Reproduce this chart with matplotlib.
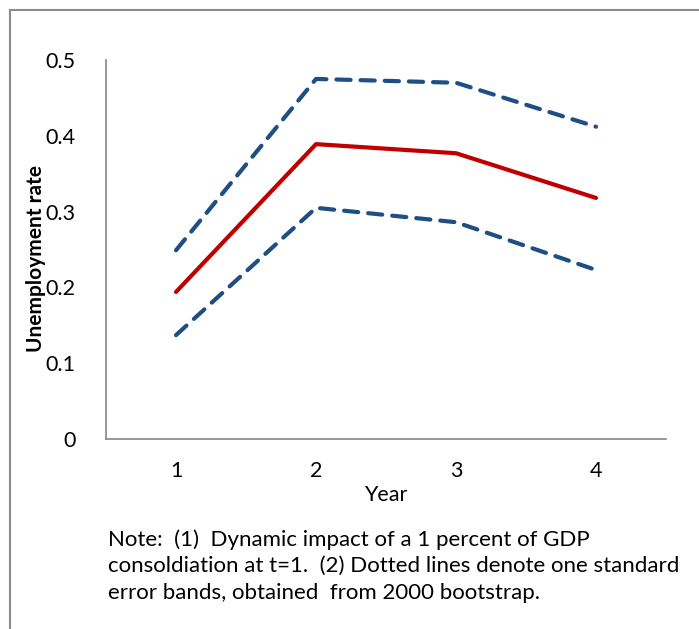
import matplotlib
matplotlib.use("Agg")
import matplotlib.pyplot as plt
from matplotlib.lines import Line2D

years = ["1", "2", "3", "4"]
estimate = [0.194, 0.389, 0.377, 0.318]
upper = [0.249, 0.475, 0.470, 0.412]
lower = [0.137, 0.305, 0.286, 0.223]
yticks = [0, 0.1, 0.2, 0.3, 0.4, 0.5]
ytick_labels = ["0", "0.1", "0.2", "0.3", "0.4", "0.5"]
note = ("Note:  (1)  Dynamic impact of a 1 percent of GDP\n"
        "consoldiation at t=1.  (2) Dotted lines denote one standard\n"
        "error bands, obtained  from 2000 bootstrap.")

plt.rcParams['font.family'] = ['Lato', 'DejaVu Sans']

W, H = 699, 629
fig = plt.figure(figsize=(W / 100, H / 100), dpi=100)
ax = fig.add_axes([106 / W, 1 - 439 / H, 560 / W, (439 - 60) / H])

x = list(range(len(years)))
blue = "#1F4E82"
ax.plot(x, upper, color=blue, lw=3, dashes=(3.4, 2.4), dash_capstyle="round", solid_capstyle="round")
ax.plot(x, lower, color=blue, lw=3, dashes=(3.4, 2.4), dash_capstyle="round", solid_capstyle="round")
ax.plot(x, estimate, color="#C00000", lw=3, solid_capstyle="round")

fs = 15.5
ax.set_xlim(-0.5, len(years) - 0.5)
ax.set_ylim(0, 0.5)
ax.set_xticks(x)
ax.set_xticklabels(years, fontsize=fs)
ax.set_yticks(yticks)
ax.set_yticklabels(ytick_labels, fontsize=fs)
ax.tick_params(axis='x', length=0, pad=16)
ax.tick_params(axis='y', length=0, pad=22)
for s in ["top", "right"]:
    ax.spines[s].set_visible(False)
for s in ["left", "bottom"]:
    ax.spines[s].set_color("#868686")
    ax.spines[s].set_linewidth(1.2)

ax.set_xlabel("Year", fontsize=fs, labelpad=3)
fig.text(36 / W, 1 - 258 / H, "Unemployment rate", rotation=90, fontsize=15,
         fontweight="bold", ha="center", va="center")

fig.text(108 / W, 1 - 566 / H, note, fontsize=16, ha="left", va="center",
         linespacing=1.42)

fig.add_artist(Line2D([9.5 / W, 1], [1 - 9.5 / H, 1 - 9.5 / H], transform=fig.transFigure,
                      color="#8C8C8C", lw=1.5))
fig.add_artist(Line2D([10 / W, 10 / W], [0, 1 - 9.5 / H], transform=fig.transFigure,
                      color="#8C8C8C", lw=1.5))

fig.savefig("out.png", dpi=100)
